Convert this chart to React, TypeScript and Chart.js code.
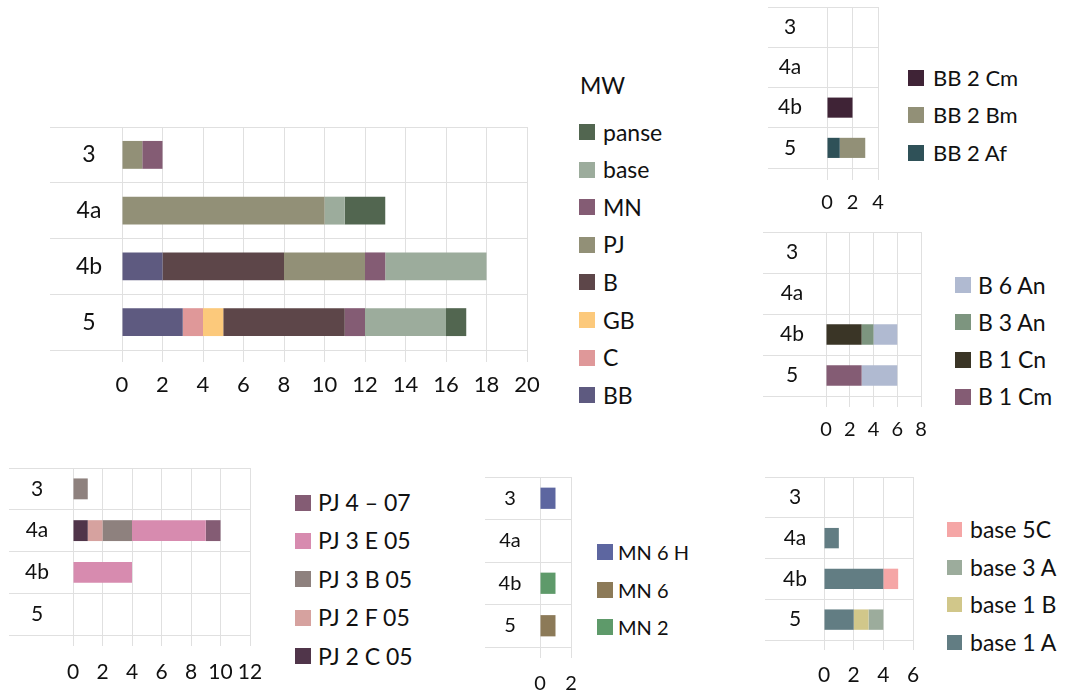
import React, { useEffect, useRef } from 'react';
import { Chart, registerables } from 'chart.js';

Chart.register(...registerables);

// ---------- data ----------
const CATEGORIES = ['3', '4a', '4b', '5'];

// Main chart "MW" (stack order left -> right)
const MW_BB = [0, 0, 2, 3];
const MW_C = [0, 0, 0, 1];
const MW_GB = [0, 0, 0, 1];
const MW_B = [0, 0, 6, 6];
const MW_PJ = [1, 10, 4, 0];
const MW_MN = [1, 0, 1, 1];
const MW_BASE = [0, 1, 5, 4];
const MW_PANSE = [0, 2, 0, 1];

// BB detail
const BB_2_AF = [0, 0, 0, 1];
const BB_2_BM = [0, 0, 0, 2];
const BB_2_CM = [0, 0, 2, 0];

// B detail
const B_1_CM = [0, 0, 0, 3];
const B_1_CN = [0, 0, 3, 0];
const B_3_AN = [0, 0, 1, 0];
const B_6_AN = [0, 0, 2, 3];

// PJ detail
const PJ_2_C_05 = [0, 1, 0, 0];
const PJ_2_F_05 = [0, 1, 0, 0];
const PJ_3_B_05 = [1, 2, 0, 0];
const PJ_3_E_05 = [0, 5, 4, 0];
const PJ_4_07 = [0, 1, 0, 0];

// MN detail
const MN_2 = [0, 0, 1, 0];
const MN_6 = [0, 0, 0, 1];
const MN_6_H = [1, 0, 0, 0];

// base detail
const BASE_1_A = [0, 1, 4, 2];
const BASE_1_B = [0, 0, 0, 1];
const BASE_3_A = [0, 0, 0, 1];
const BASE_5_C = [0, 0, 1, 0];

// ---------- styles ----------
const FONT = 'Lato, "Open Sans", sans-serif';
const TEXT = '#111111';
const GRID = '#e0e0e0';

type Series = { label: string; data: number[]; color: string };

const MAIN_SERIES: Series[] = [
  { label: 'BB', data: MW_BB, color: '#5e5a80' },
  { label: 'C', data: MW_C, color: '#df9899' },
  { label: 'GB', data: MW_GB, color: '#fcc97b' },
  { label: 'B', data: MW_B, color: '#5d4649' },
  { label: 'PJ', data: MW_PJ, color: '#929077' },
  { label: 'MN', data: MW_MN, color: '#845c74' },
  { label: 'base', data: MW_BASE, color: '#9cac9c' },
  { label: 'panse', data: MW_PANSE, color: '#526650' },
];

const BB_SERIES: Series[] = [
  { label: 'BB 2 Af', data: BB_2_AF, color: '#2f5158' },
  { label: 'BB 2 Bm', data: BB_2_BM, color: '#929077' },
  { label: 'BB 2 Cm', data: BB_2_CM, color: '#3f2336' },
];

const B_SERIES: Series[] = [
  { label: 'B 1 Cm', data: B_1_CM, color: '#845c74' },
  { label: 'B 1 Cn', data: B_1_CN, color: '#3a3526' },
  { label: 'B 3 An', data: B_3_AN, color: '#7d957f' },
  { label: 'B 6 An', data: B_6_AN, color: '#b0bad1' },
];

const PJ_SERIES: Series[] = [
  { label: 'PJ 2 C 05', data: PJ_2_C_05, color: '#50354a' },
  { label: 'PJ 2 F 05', data: PJ_2_F_05, color: '#d6a29f' },
  { label: 'PJ 3 B 05', data: PJ_3_B_05, color: '#8e817e' },
  { label: 'PJ 3 E 05', data: PJ_3_E_05, color: '#d78baf' },
  { label: 'PJ 4 \u2013 07', data: PJ_4_07, color: '#845c74' },
];

const MN_SERIES: Series[] = [
  { label: 'MN 2', data: MN_2, color: '#5e9a6a' },
  { label: 'MN 6', data: MN_6, color: '#8c7a58' },
  { label: 'MN 6 H', data: MN_6_H, color: '#5d66a0' },
];

const BASE_SERIES: Series[] = [
  { label: 'base 1 A', data: BASE_1_A, color: '#627d83' },
  { label: 'base 1 B', data: BASE_1_B, color: '#d1c78a' },
  { label: 'base 3 A', data: BASE_3_A, color: '#9cac9c' },
  { label: 'base 5C', data: BASE_5_C, color: '#f5a6a6' },
];

type Geo = {
  cLeft: number; cTop: number; cWidth: number; cHeight: number;
  plotLeft: number; plotRight: number; plotTop: number; plotBottom: number;
  lineStart: number; labelCenter: number; tickLabelY: number; tickLen: number;
  max: number; step: number; catFont: number; tickFont: number;
};

const GEO_MAIN: Geo = {
  cLeft: 40, cTop: 110, cWidth: 512, cHeight: 300,
  plotLeft: 122, plotRight: 527, plotTop: 127, plotBottom: 350,
  lineStart: 50, labelCenter: 89, tickLabelY: 385, tickLen: 12,
  max: 20, step: 2, catFont: 23, tickFont: 22,
};
const GEO_BB: Geo = {
  cLeft: 760, cTop: 0, cWidth: 134, cHeight: 222,
  plotLeft: 827, plotRight: 878, plotTop: 7, plotBottom: 168,
  lineStart: 768, labelCenter: 790, tickLabelY: 203, tickLen: 12,
  max: 4, step: 2, catFont: 21, tickFont: 20,
};
const GEO_B: Geo = {
  cLeft: 755, cTop: 222, cWidth: 182, cHeight: 230,
  plotLeft: 826, plotRight: 921, plotTop: 232, plotBottom: 396,
  lineStart: 763, labelCenter: 792, tickLabelY: 430, tickLen: 11,
  max: 8, step: 2, catFont: 21, tickFont: 20,
};
const GEO_PJ: Geo = {
  cLeft: 0, cTop: 455, cWidth: 268, cHeight: 238,
  plotLeft: 73, plotRight: 250, plotTop: 468, plotBottom: 635,
  lineStart: 9, labelCenter: 37, tickLabelY: 672, tickLen: 11,
  max: 12, step: 2, catFont: 21, tickFont: 21,
};
const GEO_MN: Geo = {
  cLeft: 478, cTop: 465, cWidth: 109, cHeight: 228,
  plotLeft: 540, plotRight: 571, plotTop: 477, plotBottom: 647,
  lineStart: 485, labelCenter: 510, tickLabelY: 684, tickLen: 11,
  max: 2, step: 2, catFont: 20, tickFont: 20,
};
const GEO_BASE: Geo = {
  cLeft: 755, cTop: 465, cWidth: 174, cHeight: 228,
  plotLeft: 824, plotRight: 913, plotTop: 477, plotBottom: 640,
  lineStart: 765, labelCenter: 795, tickLabelY: 675, tickLen: 10,
  max: 6, step: 2, catFont: 21, tickFont: 21,
};

function Panel({ geo, series }: { geo: Geo; series: Series[] }) {
  const ref = useRef<HTMLCanvasElement>(null);
  useEffect(() => {
    const g = geo;
    const m = document.createElement('canvas').getContext('2d')!;
    m.font = `${g.catFont}px ${FONT}`;
    const widest = Math.max(...CATEGORIES.map((c) => m.measureText(c).width));
    const yTl = g.plotLeft - g.lineStart;
    const yPad = g.plotLeft - g.labelCenter - yTl - widest / 2;
    const xPad = g.tickLabelY - g.plotBottom - g.tickLen - g.tickFont * 0.6;
    const chart = new Chart(ref.current!, {
      type: 'bar',
      data: {
        labels: CATEGORIES,
        datasets: series.map((s) => ({
          label: s.label,
          data: s.data,
          backgroundColor: s.color,
          borderWidth: 0,
          barPercentage: 0.5,
          categoryPercentage: 1,
        })),
      },
      options: {
        indexAxis: 'y',
        responsive: false,
        animation: false,
        layout: {
          padding: {
            left: 0,
            top: g.plotTop - g.cTop,
            right: g.cLeft + g.cWidth - g.plotRight,
            bottom: 0,
          },
        },
        plugins: { legend: { display: false }, tooltip: { enabled: false } },
        scales: {
          x: {
            stacked: true,
            min: 0,
            max: g.max,
            border: { display: false },
            grid: { color: GRID, tickColor: GRID, drawTicks: true, tickLength: g.tickLen, lineWidth: 1 },
            ticks: {
              stepSize: g.step,
              autoSkip: false,
              maxRotation: 0,
              minRotation: 0,
              padding: xPad,
              color: TEXT,
              font: { family: FONT, size: g.tickFont },
            },
            afterFit: (s: any) => {
              s.height = g.cTop + g.cHeight - g.plotBottom;
              s.paddingLeft = 0;
              s.paddingRight = 0;
            },
          },
          y: {
            stacked: true,
            offset: true,
            border: { display: false },
            grid: { offset: true, color: GRID, tickColor: GRID, drawTicks: true, tickLength: yTl, lineWidth: 1 },
            ticks: {
              crossAlign: 'center',
              padding: yPad,
              color: TEXT,
              autoSkip: false,
              font: { family: FONT, size: g.catFont },
            },
            afterFit: (s: any) => {
              s.width = g.plotLeft - g.cLeft;
              s.paddingTop = 0;
              s.paddingBottom = 0;
            },
          },
        },
      } as any,
    });
    return () => chart.destroy();
  }, []);
  return (
    <canvas
      ref={ref}
      width={geo.cWidth}
      height={geo.cHeight}
      style={{ position: 'absolute', left: geo.cLeft, top: geo.cTop, width: geo.cWidth, height: geo.cHeight, display: 'block' }}
    />
  );
}

type LegendGeo = { sqX: number; textX: number; firstY: number; spacing: number; sq: number; font: number };

function Legend({ series, lg }: { series: Series[]; lg: LegendGeo }) {
  const items = [...series].reverse();
  return (
    <>
      {items.map((s, i) => (
        <div
          key={s.label}
          style={{
            position: 'absolute',
            left: lg.sqX,
            top: lg.firstY + i * lg.spacing - 15,
            height: 30,
            display: 'flex',
            alignItems: 'center',
            whiteSpace: 'nowrap',
          }}
        >
          <div style={{ width: lg.sq, height: lg.sq, background: s.color, flex: 'none' }} />
          <span
            style={{
              marginLeft: lg.textX - lg.sqX - lg.sq,
              fontFamily: FONT,
              fontSize: lg.font,
              lineHeight: 1,
              color: TEXT,
            }}
          >
            {s.label}
          </span>
        </div>
      ))}
    </>
  );
}

export default function App() {
  return (
    <div style={{ position: 'absolute', left: 0, top: 0, width: 1065, height: 693, background: '#ffffff', overflow: 'hidden' }}>
      <Panel geo={GEO_MAIN} series={MAIN_SERIES} />
      <div
        style={{
          position: 'absolute',
          left: 580,
          top: 85 - 15,
          height: 30,
          display: 'flex',
          alignItems: 'center',
          fontFamily: FONT,
          fontSize: 23,
          lineHeight: 1,
          color: TEXT,
        }}
      >
        MW
      </div>
      <Legend series={MAIN_SERIES} lg={{ sqX: 579, textX: 603, firstY: 132, spacing: 37.6, sq: 16, font: 23 }} />

      <Panel geo={GEO_BB} series={BB_SERIES} />
      <Legend series={BB_SERIES} lg={{ sqX: 908, textX: 933, firstY: 77.5, spacing: 37.75, sq: 16, font: 22 }} />

      <Panel geo={GEO_B} series={B_SERIES} />
      <Legend series={B_SERIES} lg={{ sqX: 955, textX: 978, firstY: 285, spacing: 37.3, sq: 16, font: 23 }} />

      <Panel geo={GEO_PJ} series={PJ_SERIES} />
      <Legend series={PJ_SERIES} lg={{ sqX: 295, textX: 318, firstY: 502.5, spacing: 38.4, sq: 16, font: 23 }} />

      <Panel geo={GEO_MN} series={MN_SERIES} />
      <Legend series={MN_SERIES} lg={{ sqX: 597, textX: 618, firstY: 552, spacing: 37.5, sq: 16, font: 20 }} />

      <Panel geo={GEO_BASE} series={BASE_SERIES} />
      <Legend series={BASE_SERIES} lg={{ sqX: 947, textX: 970, firstY: 529.5, spacing: 37.5, sq: 15, font: 23 }} />
    </div>
  );
}
